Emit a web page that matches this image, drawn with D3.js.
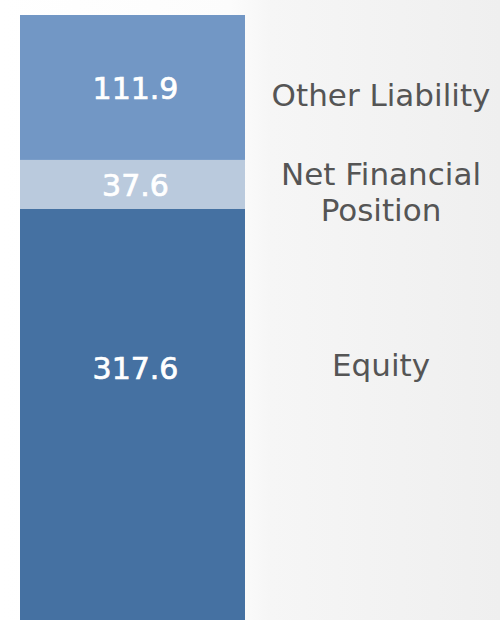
<!DOCTYPE html>
<html>
<head>
<meta charset="utf-8">
<script src="https://cdn.jsdelivr.net/npm/d3@7"></script>
<style>
  html, body { margin: 0; padding: 0; }
  body { width: 500px; height: 620px; overflow: hidden; }
  svg { display: block; }
</style>
</head>
<body>
<div id="chart"></div>
<script>
// ---- data ----
const categories = ["Equity", "Net Financial Position", "Other Liability"];
const values = [317.6, 37.6, 111.9];
const labelLines = [["Equity"], ["Net Financial", "Position"], ["Other Liability"]];
const valueLabels = ["317.6", "37.6", "111.9"];
const colors = ["#4571a2", "#bacadd", "#7297c5"];

const W = 500, H = 620;
const svg = d3.select("#chart").append("svg").attr("width", W).attr("height", H);

// background
const defs = svg.append("defs");
const grad = defs.append("linearGradient").attr("id", "bg").attr("x1", "0").attr("x2", "1").attr("y1", "0").attr("y2", "0");
grad.append("stop").attr("offset", "0%").attr("stop-color", "#ffffff");
grad.append("stop").attr("offset", "46%").attr("stop-color", "#fcfcfc");
grad.append("stop").attr("offset", "54%").attr("stop-color", "#f6f6f6");
grad.append("stop").attr("offset", "100%").attr("stop-color", "#efefef");
svg.append("rect").attr("width", W).attr("height", H).attr("fill", "url(#bg)");

// stack
const total = d3.sum(values);
const y = d3.scaleLinear().domain([0, total]).range([620, 15]);
const x = d3.scaleBand().domain(["bar"]).range([20, 245]).padding(0);

let acc = 0;
const segs = values.map((v, i) => {
  const s = { i, v, y0: acc, y1: acc + v };
  acc += v;
  return s;
});

const g = svg.append("g");
g.selectAll("rect.seg").data(segs).enter().append("rect")
  .attr("class", "seg")
  .attr("x", x("bar"))
  .attr("width", x.bandwidth())
  .attr("y", d => y(d.y1))
  .attr("height", d => y(d.y0) - y(d.y1))
  .attr("fill", d => colors[d.i]);

// label anchor: middle of segment, except the tall bottom segment which sits higher
function anchorY(d) {
  const top = y(d.y1), bot = y(d.y0);
  const h = bot - top;
  return h > 200 ? top + h * 0.385 : top + h / 2;
}

const font = "'DejaVu Sans', Verdana, sans-serif";
const cx = x("bar") + x.bandwidth() / 2 + 3;

g.selectAll("text.val").data(segs).enter().append("text")
  .attr("class", "val")
  .attr("x", cx)
  .attr("y", d => anchorY(d) + 11.5)
  .attr("text-anchor", "middle")
  .attr("font-family", font)
  .attr("font-size", 30)
  .attr("fill", "#ffffff")
  .attr("stroke", "#ffffff")
  .attr("stroke-width", 0.7)
  .text(d => valueLabels[d.i]);

const lineH = 36;
const labX = 381;
const lab = g.selectAll("text.lab").data(segs).enter().append("text")
  .attr("class", "lab")
  .attr("x", labX)
  .attr("text-anchor", "middle")
  .attr("font-family", font)
  .attr("font-size", 31)
  .attr("fill", "#555555")
  .attr("y", d => {
    const n = labelLines[d.i].length;
    const base = d.i === 0 ? anchorY(d) + 8.5 : anchorY(d) + 18.5;
    return n > 1 ? base - 18.5 + 0.5 : base;
  });
lab.each(function(d) {
  const t = d3.select(this);
  labelLines[d.i].forEach((ln, k) => {
    t.append("tspan").attr("x", labX).attr("dy", k === 0 ? 0 : lineH).text(ln);
  });
});
</script>
</body>
</html>
